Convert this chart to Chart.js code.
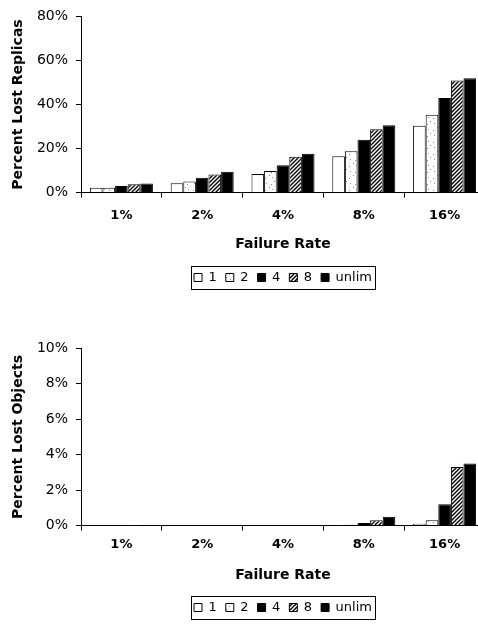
<!DOCTYPE html>
<html><head><meta charset="utf-8">
<script src="https://cdn.jsdelivr.net/npm/chart.js@4.4.1/dist/chart.umd.min.js"></script>
<style>
html,body{margin:0;padding:0;overflow:hidden;background:#fff;width:478px;height:624px}
canvas{position:absolute;left:0}
</style></head>
<body>
<canvas id="c1" width="490" height="294" style="top:0px"></canvas>
<canvas id="c2" width="490" height="292" style="top:332px"></canvas>
<script>
// ---- data ----
const categories = ['1%', '2%', '4%', '8%', '16%'];
const seriesNames = ['1', '2', '4', '8', 'unlim'];

// Percent Lost Replicas (per series across failure rates)
const replicas1 = [2.2, 4.3, 8.5, 16.5, 30.3];
const replicas2 = [2.2, 5.0, 9.8, 18.8, 35.3];
const replicas4 = [3.0, 6.7, 12.4, 24.0, 43.0];
const replicas8 = [3.8, 8.2, 16.3, 28.8, 50.9];
const replicasU = [4.1, 9.5, 17.6, 30.6, 51.9];

// Percent Lost Objects
const objects1 = [0, 0, 0, 0.02, 0.1];
const objects2 = [0, 0, 0, 0.05, 0.3];
const objects4 = [0, 0.02, 0, 0.15, 1.2];
const objects8 = [0.01, 0.03, 0.03, 0.3, 3.3];
const objectsU = [0.01, 0.02, 0.03, 0.5, 3.5];

const replicaTickMax = 80, replicaTickStep = 20;
const objectTickMax = 10, objectTickStep = 2;

// ---- patterns ----
function stipple() {
  const c = document.createElement('canvas'); c.width = 12; c.height = 12;
  const g = c.getContext('2d');
  g.fillStyle = '#fff'; g.fillRect(0, 0, 12, 12);
  g.fillStyle = '#8a8a8a';
  [[2,3],[8,9],[5,7],[10,1],[1,10],[7,4]].forEach(p => g.fillRect(p[0], p[1], 1, 1));
  return g.createPattern(c, 'repeat');
}
function hatch() {
  const s = 4;
  const c = document.createElement('canvas'); c.width = s; c.height = s;
  const g = c.getContext('2d');
  g.fillStyle = '#fff'; g.fillRect(0, 0, s, s);
  g.strokeStyle = '#000'; g.lineWidth = 1.4;
  g.beginPath();
  g.moveTo(-1, s + 1); g.lineTo(s + 1, -1);
  g.moveTo(-1, 1); g.lineTo(1, -1);
  g.moveTo(s - 1, s + 1); g.lineTo(s + 1, s - 1);
  g.stroke();
  return g.createPattern(c, 'repeat');
}
const fills = ['#ffffff', stipple(), '#000000', hatch(), '#000000'];

const legendBox = {
  id: 'legendBox',
  afterDraw(chart) {
    const hb = chart.legend && chart.legend.legendHitBoxes;
    if (!hb || !hb.length) return;
    const l = Math.min(...hb.map(h => h.left));
    const r = Math.max(...hb.map(h => h.left + h.width));
    const t = Math.min(...hb.map(h => h.top));
    const b = Math.max(...hb.map(h => h.top + h.height));
    const ctx = chart.ctx;
    ctx.save();
    ctx.strokeStyle = '#000'; ctx.lineWidth = 1;
    ctx.strokeRect(Math.round(l - 3) + 0.5, Math.round(t - 5) + 0.5, Math.round(r - l + 6), Math.round(b - t + 10));
    ctx.restore();
  }
};

function makeChart(id, seriesData, yTitle, yMax, yStep, p) {
  const datasets = seriesData.map((d, i) => ({
    label: seriesNames[i],
    data: d,
    backgroundColor: fills[i],
    borderColor: '#000',
    borderWidth: 1,
    barPercentage: 1.0,
    categoryPercentage: 0.78
  }));
  return new Chart(document.getElementById(id), {
    type: 'bar',
    data: { labels: categories, datasets },
    plugins: [legendBox],
    options: {
      responsive: false,
      animation: false,
      devicePixelRatio: 1,
      layout: { padding: { top: 15, right: 5, bottom: 0, left: 0 } },
      plugins: {
        tooltip: { enabled: false },
        legend: {
          position: 'bottom',
          fullSize: false,
          labels: {
            boxWidth: 8, boxHeight: 8, padding: 9, color: '#000',
            font: { family: "'DejaVu Sans'", size: 13 }
          }
        }
      },
      scales: {
        x: {
          grid: { display: true, drawOnChartArea: false, drawTicks: true, tickLength: 5, color: '#000', offset: true },
          border: { display: true, color: '#000', width: 1 },
          ticks: { color: '#000', padding: p.tickPad, font: { family: "'DejaVu Sans'", size: 13, weight: 'bold' } },
          title: { display: true, text: 'Failure Rate', color: '#000',
            font: { family: "'DejaVu Sans'", size: 14, weight: 'bold' },
            padding: { top: p.titleTop, bottom: p.titleBottom } }
        },
        y: {
          min: 0, max: yMax,
          afterFit: s => { s.width = 81; },
          grid: { display: true, drawOnChartArea: false, drawTicks: true, tickLength: 5, color: '#000' },
          border: { display: true, color: '#000', width: 1 },
          ticks: { stepSize: yStep, color: '#000', padding: 8,
            font: { family: "'DejaVu Sans'", size: 14 },
            callback: v => v + '%' },
          title: { display: true, text: yTitle, color: '#000',
            font: { family: "'DejaVu Sans'", size: 14, weight: 'bold' },
            padding: { top: 10, bottom: 0 } }
        }
      }
    }
  });
}

makeChart('c1', [replicas1, replicas2, replicas4, replicas8, replicasU],
  'Percent Lost Replicas', replicaTickMax, replicaTickStep, { tickPad: 10, titleTop: 3, titleBottom: 9 });
makeChart('c2', [objects1, objects2, objects4, objects8, objectsU],
  'Percent Lost Objects', objectTickMax, objectTickStep, { tickPad: 6, titleTop: 9, titleBottom: 8 });
</script>
</body></html>
